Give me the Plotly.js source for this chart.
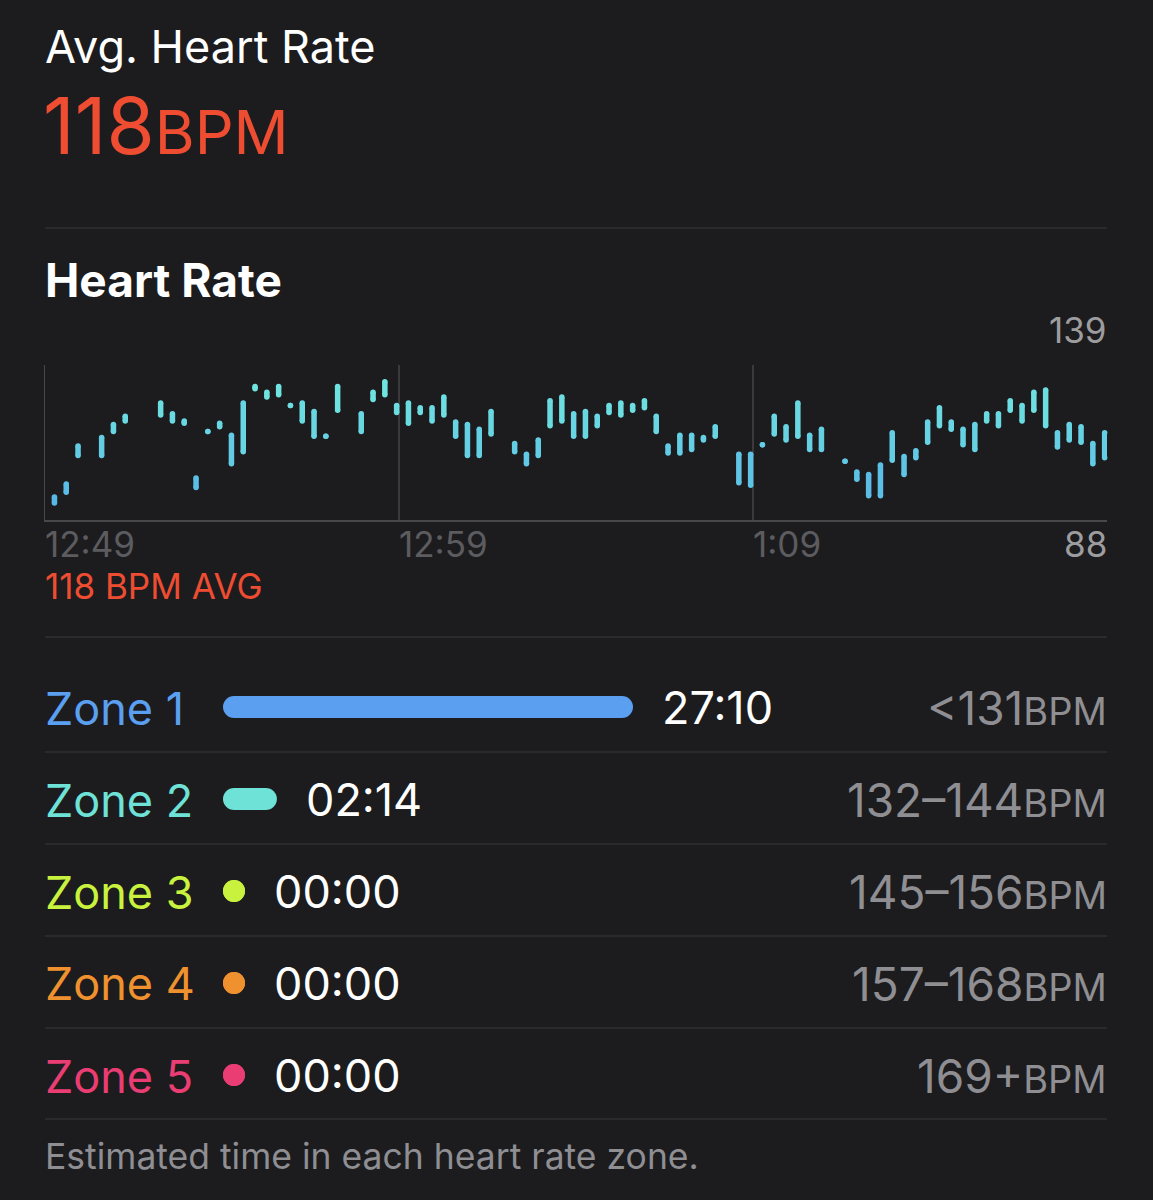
<!DOCTYPE html>
<html>
<head>
<meta charset="utf-8">
<script src="https://cdn.plot.ly/plotly-3.0.1.min.js"></script>
<style>
html,body{margin:0;padding:0;background:#1c1c1e;}
#chart{width:1153px;height:1200px;}
</style>
</head>
<body>
<div id="chart"></div>
<script>
// ---- Heart-rate samples (20 s buckets): time, min bpm, max bpm ----
const hrTimes = [
 '12:49:16','12:49:36','12:49:56','12:50:36','12:50:56','12:51:16','12:52:16','12:52:36','12:52:56','12:53:16',
 '12:53:36','12:53:56','12:54:16','12:54:36','12:54:56','12:55:16','12:55:36','12:55:56','12:56:16','12:56:36',
 '12:56:56','12:57:16','12:57:56','12:58:16','12:58:36','12:58:56','12:59:16','12:59:36','12:59:56','13:00:16',
 '13:00:36','13:00:56','13:01:16','13:01:36','13:02:16','13:02:36','13:02:56','13:03:16','13:03:36','13:03:56',
 '13:04:16','13:04:36','13:04:56','13:05:16','13:05:36','13:05:56','13:06:16','13:06:36','13:06:56','13:07:16',
 '13:07:36','13:07:56','13:08:36','13:08:56','13:09:16','13:09:36','13:09:56','13:10:16','13:10:36','13:10:56',
 '13:11:36','13:11:56','13:12:16','13:12:36','13:12:56','13:13:16','13:13:36','13:13:56','13:14:16','13:14:36',
 '13:14:56','13:15:16','13:15:36','13:15:56','13:16:16','13:16:36','13:16:56','13:17:16','13:17:36','13:17:56',
 '13:18:16','13:18:36','13:18:56'
];
const hrMin = [
 88, 92.5, 108, 108, 118, 122.5, 125, 122.5, 121.5, 94.5,
 118, 120, 104.5, 109.5, 136, 132.5, 133.5, 129, 122.5, 116,
 116, 127, 118, 131.5, 133.5, 126, 121.5, 126, 122.5, 125,
 116, 108, 108, 117, 109.5, 104.5, 108, 120.5, 122.5, 116,
 116, 120.5, 126, 125, 127, 128, 118, 109, 109, 110.5,
 114.5, 116, 96.5, 95.5, 112.5, 117, 114.5, 116, 110.5, 110.5,
 105.5, 98, 91, 91, 106, 100, 107, 113.5, 120.5, 119,
 112.5, 110.5, 122.5, 120.5, 127, 122.5, 127, 120.5, 111.5, 114.5,
 113.5, 104.5, 107
];
const hrMax = [
 90.5, 96, 112, 115.5, 121, 124.5, 130, 125.5, 122.5, 98.5,
 118, 121.5, 116.5, 130, 137, 134.5, 137, 129, 130, 126.5,
 116, 137, 125.5, 134.5, 139, 129, 130, 128, 128, 132.5,
 122, 121, 119, 126.5, 113, 108.5, 114.5, 131, 132.5, 125.5,
 126.5, 124.5, 129, 130, 129, 131, 124.5, 112, 116.5, 116.5,
 115.5, 120, 108.5, 108.5, 112.5, 124.5, 120, 130, 116.5, 119,
 105.5, 101, 100, 104, 117.5, 107.5, 110, 122, 128, 122,
 119, 121, 125.5, 125.5, 131, 129, 134.5, 135.5, 117.5, 121,
 120, 113, 117.5
];
const day = '2024-01-01 ';
const tickTimes = ['12:49', '12:59', '13:09'];
const tickLabels = ['12:49', '12:59', '1:09'];
const hrScaleMax = 139, hrScaleMin = 88, hrAvg = 118;

// ---- Zones ----
const zoneNames = ['Zone 1', 'Zone 2', 'Zone 3', 'Zone 4', 'Zone 5'];
const zoneSeconds = [1630, 134, 0, 0, 0];
const zoneDurLabels = ['27:10', '02:14', '00:00', '00:00', '00:00'];
const zoneRanges = ['<131', '132–144', '145–156', '157–168', '169+'];
const zoneColors = ['#5a9ff0', '#6fe2d8', '#c8f23e', '#f0912f', '#ea3d74'];

// ---- helpers ----
const W = 1153, H = 1200;
const X = px => px / W;
const Y = py => 1 - py / H;
const FONT = 'Inter, "Open Sans", "Noto Sans", sans-serif';
const GRAY = '#8e8e93';
const RED = '#ee4d32';

function barColor(v) {
  const lo = [88, 184, 232], hi = [112, 228, 224];
  let f = (v - 90) / 45; f = Math.max(0, Math.min(1, f));
  const c = lo.map((a, i) => Math.round(a + (hi[i] - a) * f));
  return 'rgb(' + c.join(',') + ')';
}

const traces = [];
hrTimes.forEach((t, i) => {
  const col = barColor((hrMin[i] + hrMax[i]) / 2);
  traces.push({
    type: 'scatter', mode: 'lines+markers', cliponaxis: false,
    x: [day + t, day + t], y: [hrMin[i], hrMax[i]],
    xaxis: 'x', yaxis: 'y',
    line: {color: col, width: 5.5},
    marker: {color: col, size: 5.5, line: {width: 0}},
    hoverinfo: 'skip', showlegend: false
  });
});
zoneNames.forEach((z, i) => {
  traces.push({
    type: 'scatter', mode: 'lines+markers', cliponaxis: false,
    x: [0, zoneSeconds[i]], y: [i, i],
    xaxis: 'x2', yaxis: 'y2',
    line: {color: zoneColors[i], width: 22},
    marker: {color: zoneColors[i], size: 22, line: {width: 0}},
    hoverinfo: 'skip', showlegend: false
  });
});

const shapes = [];
function hline(py) {
  shapes.push({type: 'line', xref: 'paper', yref: 'paper', x0: X(45), x1: X(1107), y0: Y(py), y1: Y(py),
    line: {color: '#38383a', width: 1.2}});
}
[228, 637, 752, 844, 936, 1028, 1119].forEach(hline);

const ann = [];
function txt(text, px, py, size, color, anchor, extra) {
  ann.push(Object.assign({
    text: text, x: X(px), y: Y(py), xref: 'paper', yref: 'paper',
    xanchor: anchor || 'left', yanchor: 'middle', showarrow: false,
    font: {family: FONT, size: size, color: color}
  }, extra || {}));
}
txt('Avg. Heart Rate', 43, 46, 45, '#ffffff');
txt(hrAvg + '<span style="font-size:61px">BPM</span>', 41, 126, 78, RED);
txt('<b>Heart Rate</b>', 43, 280, 46, '#ffffff');
txt(String(hrScaleMax), 1109, 330, 35, '#9d9d9f', 'right');
txt(String(hrScaleMin), 1109, 544, 35, '#9d9d9f', 'right');
txt(hrAvg + ' BPM AVG', 43, 586, 35, RED);
tickTimes.forEach((t, i) => {
  ann.push({text: tickLabels[i], x: day + t, y: Y(544), xref: 'x', yref: 'paper',
    xanchor: 'left', yanchor: 'middle', xshift: -2, showarrow: false,
    font: {family: FONT, size: 35, color: '#5c5c60'}});
});
zoneNames.forEach((z, i) => {
  const py = 708 + 92 * i;
  txt(z, 43, py, 45, zoneColors[i]);
  ann.push({text: zoneDurLabels[i], x: zoneSeconds[i], y: i, xref: 'x2', yref: 'y2',
    xanchor: 'left', yanchor: 'middle', xshift: 38, showarrow: false,
    font: {family: FONT, size: 45, color: '#ffffff'}});
  txt(zoneRanges[i] + '<span style="font-size:38px">BPM</span>', 1109, py, 46, GRAY, 'right');
});
txt('Estimated time in each heart rate zone.', 43, 1156, 35.5, GRAY);

const layout = {
  width: W, height: H,
  margin: {l: 0, r: 0, t: 0, b: 0, pad: 0},
  paper_bgcolor: '#1c1c1e', plot_bgcolor: 'rgba(0,0,0,0)',
  font: {family: FONT},
  showlegend: false,
  xaxis: {
    type: 'date', domain: [X(45), X(1107)],
    range: [day + '12:49:00', day + '13:19:00'],
    tickvals: tickTimes.map(t => day + t), showticklabels: false, ticks: '',
    showgrid: true, gridcolor: '#3a3a3c', gridwidth: 1.2,
    showline: true, linecolor: '#48484a', linewidth: 1.5, zeroline: false,
    fixedrange: true
  },
  yaxis: {
    domain: [Y(520), Y(365)], range: [80.85, 146.0],
    showgrid: false, showticklabels: false, ticks: '', zeroline: false,
    showline: true, linecolor: '#48484a', linewidth: 1.5, fixedrange: true
  },
  xaxis2: {
    domain: [X(234), X(622)], range: [0, 1630], anchor: 'y2',
    showgrid: false, showticklabels: false, ticks: '', zeroline: false, showline: false
  },
  yaxis2: {
    domain: [Y(1121), Y(661)], range: [4.5, -0.5], anchor: 'x2',
    showgrid: false, showticklabels: false, ticks: '', zeroline: false, showline: false
  },
  shapes: shapes,
  annotations: ann
};

Plotly.newPlot('chart', traces, layout, {staticPlot: true, displayModeBar: false});
</script>
</body>
</html>
